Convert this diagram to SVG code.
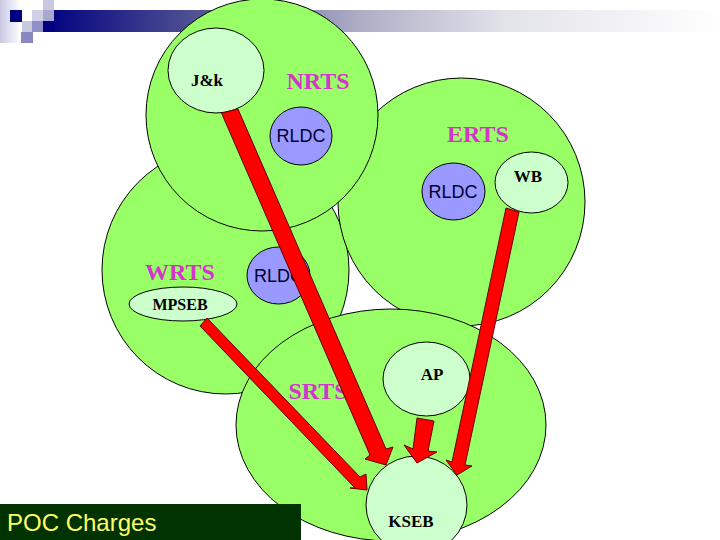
<svg xmlns="http://www.w3.org/2000/svg" width="720" height="540" viewBox="0 0 720 540">
<style>
.region{fill:#99ff66;stroke:#000;stroke-width:1}
.state{fill:#ccffcc;stroke:#000;stroke-width:1}
.rldc{fill:#9999ff;stroke:#000;stroke-width:1}
.arrow{fill:#ff0000;stroke:#660000;stroke-width:1;stroke-linejoin:miter}
.ts{font-family:"Liberation Serif",serif;font-weight:bold;font-size:24px;fill:#d633cc;text-anchor:middle}
.st{font-family:"Liberation Serif",serif;font-weight:bold;font-size:17px;fill:#000;text-anchor:middle}
.rl{font-family:"Liberation Sans",sans-serif;font-size:18px;fill:#000033;text-anchor:middle}
</style>
<defs>
<linearGradient id="bar" gradientUnits="userSpaceOnUse" x1="43" x2="720" y1="0" y2="0">
<stop offset="0" stop-color="#000080"/>
<stop offset="0.25" stop-color="#5a5a96"/>
<stop offset="0.47" stop-color="#aeaec6"/>
<stop offset="0.68" stop-color="#e2e2ea"/>
<stop offset="1" stop-color="#ffffff"/>
</linearGradient>
<linearGradient id="side" x1="0" x2="1" y1="0" y2="0"><stop offset="0" stop-color="#c8c8e4"/><stop offset="1" stop-color="#ffffff"/></linearGradient>
</defs>
<rect width="720" height="540" fill="#fff"/>
<g id="header">
<rect x="54" y="10" width="666" height="22" fill="url(#bar)"/>
<rect x="43" y="21" width="11" height="11" fill="#000080"/>
<rect x="0" y="0" width="21" height="43" fill="url(#side)"/>
<rect x="10" y="10" width="12" height="12" fill="#000080"/>
<rect x="43" y="0" width="11" height="10" fill="#c8c8e0"/>
<rect x="32" y="10" width="11" height="11" fill="#d0d0e8"/>
<rect x="43" y="10" width="11" height="11" fill="#a8a8d0"/>
<rect x="22" y="21" width="10" height="11" fill="#c8c8e0"/>
<rect x="32" y="21" width="11" height="11" fill="#9090c8"/>
<rect x="21" y="32" width="12" height="11" fill="#8888c0"/>
</g>
<g id="WRTS"><ellipse class="region" cx="225.500" cy="270" rx="123.500" ry="124"/><text class="ts" x="180" y="280">WRTS</text></g>
<g id="ERTS"><ellipse class="region" cx="461.500" cy="202" rx="123.500" ry="124"/><text class="ts" x="478" y="142">ERTS</text></g>
<g id="NRTS"><ellipse class="region" cx="262" cy="115" rx="116" ry="116"/><text class="ts" x="318" y="89">NRTS</text></g>
<g id="SRTS"><ellipse class="region" cx="391" cy="425" rx="155" ry="116"/><text class="ts" x="318" y="399">SRTS</text></g>
<g id="RLDC-N"><ellipse class="rldc" cx="301" cy="136" rx="31" ry="29"/><text class="rl" x="301" y="142">RLDC</text></g>
<g id="RLDC-E"><ellipse class="rldc" cx="453.500" cy="191.500" rx="31.500" ry="28.500"/><text class="rl" x="453" y="198">RLDC</text></g>
<g id="RLDC-W"><ellipse class="rldc" cx="278.500" cy="275.500" rx="31.500" ry="28.500"/><text class="rl" x="278.500" y="282">RLDC</text></g>
<g id="JK"><ellipse class="state" cx="216" cy="70.500" rx="48" ry="42.500"/><text class="st" x="207" y="86">J&amp;k</text></g>
<g id="WB"><ellipse class="state" cx="531.500" cy="182.500" rx="36.500" ry="30.500"/><text class="st" x="528" y="182">WB</text></g>
<g id="MPSEB"><ellipse class="state" cx="183" cy="304" rx="54" ry="17"/><text class="st" x="180" y="310" style="font-size:16px">MPSEB</text></g>
<g id="AP"><ellipse class="state" cx="426.500" cy="379" rx="43.500" ry="37"/><text class="st" x="432" y="380">AP</text></g>
<g id="KSEB"><ellipse class="state" cx="416.500" cy="505" rx="50.500" ry="49"/><text class="st" x="411" y="527">KSEB</text></g>
<g id="connectors">
<polygon class="arrow" points="221.500,113 370,455 365,459 386,465 393,447 386,449 238,109"/>
<polygon class="arrow" points="207,318 360,477 366,474 367,490 350,488 355,488 200,326"/>
<polygon class="arrow" points="417,418 434,421 428,451 437,452 417,463 404,445 413,449"/>
<polygon class="arrow" points="506,208 452,462 446,460 457,475 472,466 465,465 519,212"/>
</g>
<g id="title">
<rect x="0" y="504" width="301" height="36" fill="#003300"/>
<text x="7" y="531" font-family="Liberation Sans, sans-serif" font-size="24" fill="#ffff66">POC Charges</text>
</g>
</svg>
